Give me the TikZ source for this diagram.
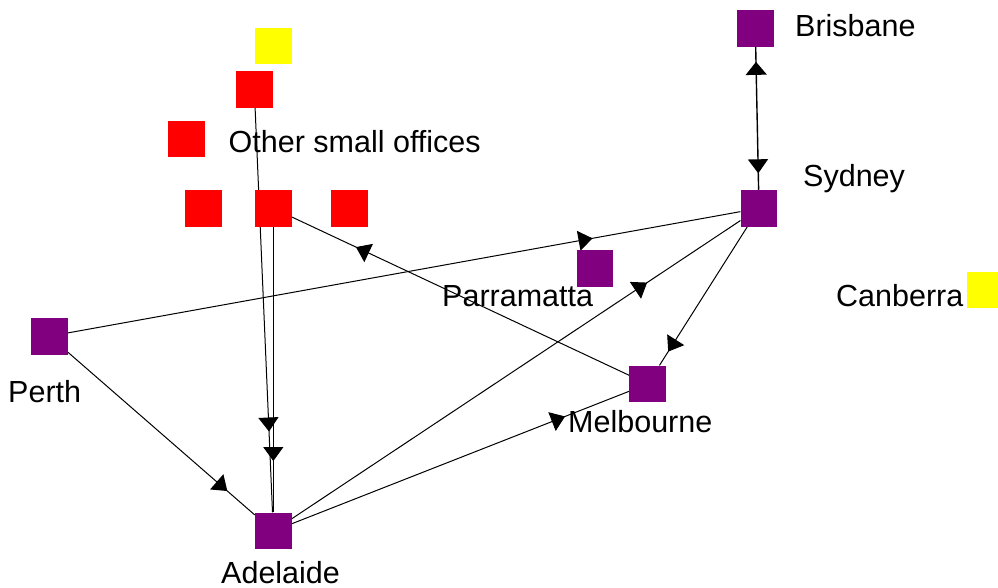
\documentclass[tikz,border=0pt]{standalone}
\usepackage{fontspec}
\setmainfont{Liberation Sans}
\usetikzlibrary{arrows.meta,decorations.markings,backgrounds}
\definecolor{cpurple}{HTML}{800080}
\definecolor{cred}{HTML}{FF0000}
\definecolor{cyellow}{HTML}{FFFF00}
\tikzset{
  sq/.style={rectangle, minimum size=36.7pt, inner sep=0pt, draw=none},
  city/.style={sq, fill=cpurple},
  office/.style={sq, fill=cred},
  other/.style={sq, fill=cyellow},
  lbl/.style={anchor=base west, inner sep=0pt, font=\fontsize{30.5pt}{36pt}\selectfont},
  edge/.style={draw=black, line width=1pt},
  fwd/.style={postaction={decorate, decoration={markings, mark=at position #1 with {\arrow{Triangle[length=14pt,width=20pt]}}}}},
  bwd/.style={postaction={decorate, decoration={markings, mark=at position #1 with {\arrowreversed{Triangle[length=13pt,width=21pt]}}}}}
}
\begin{document}
\begin{tikzpicture}[x=1pt,y=-1pt]
\clip (0,0) rectangle (998,588);
% nodes
\node[other]  (ytop) at (273.3,46) {};
\node[office] (r1)   at (254.3,89.3) {};
\node[office] (r2)   at (186.5,139) {};
\node[office] (rl)   at (203.3,208.3) {};
\node[office] (rc)   at (273.3,208.3) {};
\node[office] (rr)   at (349.3,208.3) {};
\node[city] (bri) at (755.3,28.3) {};
\node[city] (syd) at (759,208.3) {};
\node[city] (par) at (595,268.3) {};
\node[other] (can) at (985.2,290) {};
\node[city] (per) at (49.5,336.2) {};
\node[city] (mel) at (647.7,384) {};
\node[city] (ade) at (273.3,531) {};
% labels
\node[lbl] (lbri) at (795,37) {Brisbane};
\node[lbl] (lsyd) at (803,187) {Sydney};
\node[lbl] (loth) at (228.5,153) {Other small offices};
\node[lbl] (lpar) at (442,306) {Parramatta};
\node[lbl] (lcan) at (836,306) {Canberra};
\node[lbl] (lper) at (8,402) {Perth};
\node[lbl] (lmel) at (568,432) {Melbourne};
\node[lbl] (lade) at (221,583) {Adelaide};
% edges
\begin{scope}[on background layer]
\draw[edge, line width=1.4pt, bwd=0.105, fwd=0.885] (bri) -- (syd);
\draw[edge, fwd=0.80] (r1) -- (ade);
\draw[edge, fwd=0.82] (rc) -- (ade);
\draw[edge, fwd=0.853] (per) -- (ade);
\draw[edge, fwd=0.78] (per) -- (syd);
\draw[edge, fwd=0.792] (ade) -- (syd);
\draw[edge, fwd=0.90] (syd) -- (mel);
\draw[edge, fwd=0.81] (mel) -- (rc);
\draw[edge, fwd=0.81] (ade) -- (mel);
\end{scope}
\end{tikzpicture}
\end{document}
